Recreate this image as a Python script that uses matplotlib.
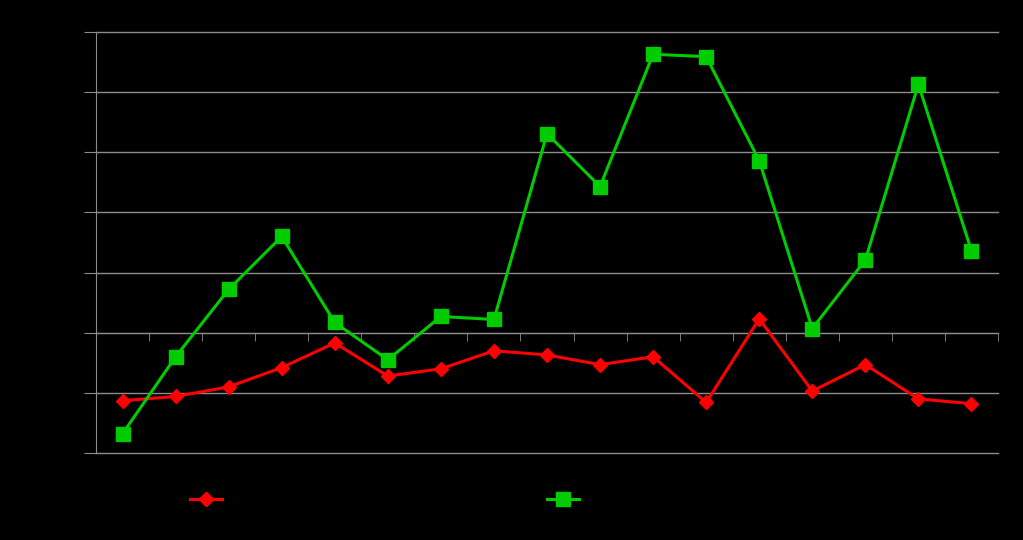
import matplotlib
matplotlib.use('Agg')
import matplotlib.pyplot as plt
import numpy as np

# values (arbitrary units, 0 at the x axis line)
categories = [str(i) for i in range(1, 18)]
red_values = [-11.3, -10.6, -9.0, -5.8, -1.7, -7.2, -6.0, -3.0, -3.7,
              -5.3, -4.0, -11.6, 2.3, -9.7, -5.3, -11.0, -11.8]
green_values = [-16.8, -4.0, 7.2, 16.0, 1.7, -4.5, 2.7, 2.2, 33.1,
                24.3, 46.3, 45.9, 28.6, 0.7, 12.1, 41.3, 13.6]
y_ticks = [-20, -10, 0, 10, 20, 30, 40, 50]

grid_gray = '#8c8c8c'

fig = plt.figure(figsize=(10.23, 5.40), dpi=100, facecolor='black')
ax = fig.add_axes([96 / 1023, 1 - 453 / 540, (998 - 96) / 1023, (453 - 32) / 540])
ax.set_facecolor('black')

x = np.arange(1, len(categories) + 1)

red_line, = ax.plot(x, red_values, color='#ff0000', linewidth=2.2,
                    marker='D', markersize=7.5, zorder=3, label='Series1')
green_line, = ax.plot(x, green_values, color='#00cc00', linewidth=2.2,
                      marker='s', markersize=10, zorder=4, label='Series2')

ax.set_xlim(0.5, len(categories) + 0.5)
ax.set_ylim(-20, 50)
ax.set_yticks(y_ticks)
ax.yaxis.grid(True, color=grid_gray, linewidth=1)
ax.set_axisbelow(True)
# keep the gridlines at the very top and bottom visible
for gl in ax.get_ygridlines():
    gl.set_clip_on(False)

# x axis crosses at zero, tick marks between the categories
ax.spines['bottom'].set_position(('data', 0))
ax.spines['bottom'].set_color(grid_gray)
ax.spines['left'].set_color(grid_gray)
ax.spines['top'].set_visible(False)
ax.spines['right'].set_visible(False)

ax.set_xticks(x)
ax.set_xticklabels(categories, color='black')
ax.set_xticks(x + 0.5, minor=True)
ax.tick_params(axis='x', which='major', length=0)
ax.tick_params(axis='x', which='minor', length=6, color=grid_gray, direction='out')
ax.tick_params(axis='y', length=9, color=grid_gray, labelcolor='black')

# legend below the plot, one entry at a time
leg1 = fig.legend(handles=[red_line], loc='center left',
                  bbox_to_anchor=(190 / 1023, 1 - 500 / 540),
                  frameon=False, borderpad=0, borderaxespad=0,
                  handlelength=2.3, labelcolor='black')
fig.add_artist(leg1)
fig.legend(handles=[green_line], loc='center left',
           bbox_to_anchor=(547 / 1023, 1 - 500 / 540),
           frameon=False, borderpad=0, borderaxespad=0,
           handlelength=2.3, labelcolor='black')

fig.savefig('out.png', dpi=100, facecolor='black')
